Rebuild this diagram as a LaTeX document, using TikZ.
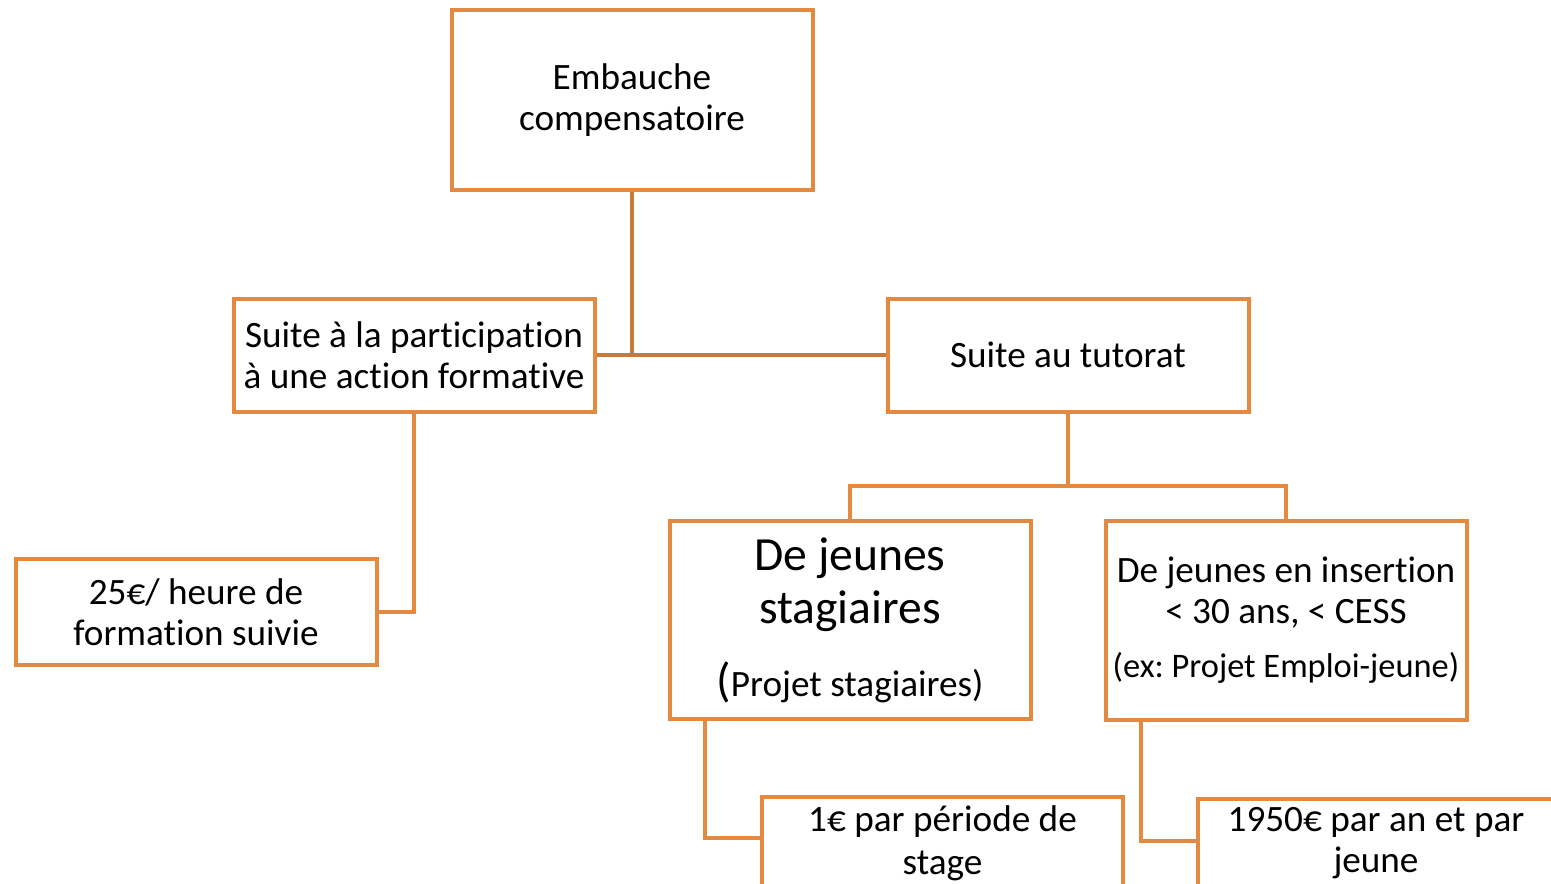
\documentclass[tikz,border=0pt]{standalone}
\usepackage{fontspec}
\setmainfont{Carlito}[Ligatures=NoCommon]
\usepackage{tikz}
\usetikzlibrary{calc,backgrounds}
\definecolor{orange1} {RGB} {227, 138, 64}
\definecolor{orange2} {RGB} {200, 122, 58}
\newcommand{\bigtxt}{\fontsize{23.8}{26.5}\selectfont}
\newcommand{\midtxt}{\fontsize{18.6}{20.5}\selectfont}
\newcommand{\smalltxt}{\fontsize{17.2}{20}\selectfont}
\frenchspacing
\tikzstyle{chart}=[
  x=0.5pt, y=-0.5pt, line join=miter, font=\midtxt
]
\tikzstyle{chartbox}=[
  draw=orange1, line width=2pt, fill=white, align=center,
  minimum width=180.5pt, inner sep=2pt
]
\tikzstyle{chartedge}=[
  draw=orange1, line width=2pt
]
\tikzstyle{chartedgetop}=[
  chartedge, draw=orange2
]

\begin{document}
\begin{tikzpicture}[chart]
\clip (0,0) rectangle (1551,883);
\useasboundingbox (0,0) rectangle (1551,883);

\node (emb) [chartbox, minimum height=90pt] at (632, 100) {Embauche\\compensatoire};
\node (form) [chartbox, minimum height=56.5pt] at ($(emb) + (-218, 255)$) {Suite à la participation\\à une action formative};
\node (tut) [chartbox, minimum height=56.5pt] at ($(emb) + (436, 255)$) {Suite au tutorat};

\node (heure) [chartbox, minimum height=53pt] at ($(form) + (-218, 257)$) {25€/ heure de\\formation suivie};

\node (stag) [chartbox, minimum height=99pt] at ($(tut) + (-218, 265)$) {\bigtxt De jeunes\\[6pt]\bigtxt stagiaires\\[14pt]\bigtxt(\midtxt Projet stagiaires)};
\node (ins) [chartbox, minimum height=99.5pt] at ($(tut) + (218, 265)$) {De jeunes en insertion\\< 30 ans, < CESS\\[6.5pt]\smalltxt (ex: Projet Emploi-jeune)};

\node (periode) [chartbox, minimum height=55pt, anchor=north west] at (760, 795) {};
\node (periodetxt) [align=center, anchor=north, font=\fontsize{18.6}{21.5}\selectfont] at ($(periode.north) + (0, 4)$) {1€ par période de\\stage};
\node (an) [chartbox, minimum height=55pt, anchor=north west] at (1196, 797) {};
\node (antxt) [align=center, anchor=north, font=\fontsize{18.6}{20.5}\selectfont] at ($(an.north west) + (180, 3)$) {1950€ par an et par\\jeune};

\begin{scope}[on background layer]
\draw [chartedgetop] (form.east) -- (tut.west);
\draw [chartedgetop] (emb.south) -- (emb.south |- form.east);
\draw [chartedge] (form.south) |- (heure.east);
\draw [chartedge] (tut.south) -- ++ (0, 72) -| (stag.north);
\draw [chartedge] (tut.south) -- ++ (0, 72) -| (ins.north);
\draw [chartedge] ($(stag.south west) + (37, 0)$) |- ($(periode.north west) + (0, 43)$);
\draw [chartedge] ($(ins.south west) + (37, 0)$) |- ($(an.north west) + (0, 44)$);
\end{scope}
\end{tikzpicture}
\end{document}
